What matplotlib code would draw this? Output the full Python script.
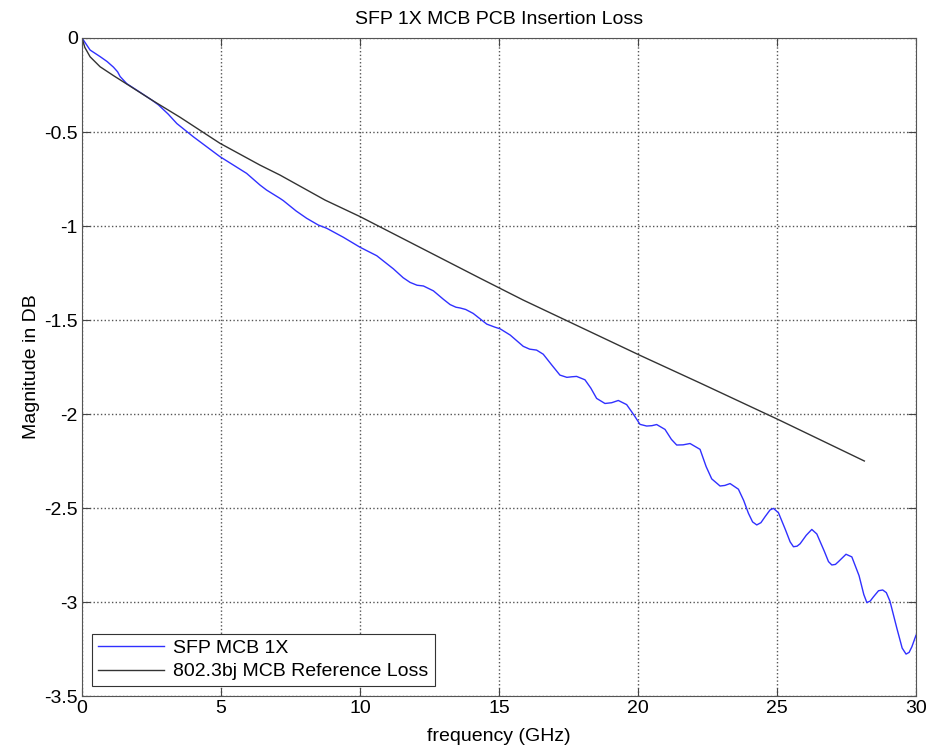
import matplotlib.pyplot as plt

plt.rcParams['font.family'] = ['Liberation Sans', 'DejaVu Sans']

# SFP MCB 1X
sfp_freq = [0, 0.29, 0.65, 0.9, 1.13, 1.28, 1.37, 1.61, 2.1, 2.51, 2.75, 3.1, 3.41,
            4.0, 4.96, 5.92, 6.4, 6.64, 7.12, 7.24, 7.7, 8.08, 8.5, 8.8, 9.4, 10.0,
            10.6, 11.2, 11.55, 11.8, 12.05, 12.28, 12.64, 13.0, 13.24, 13.45, 13.6,
            13.8, 14.07, 14.56, 14.85, 15.04, 15.4, 15.87, 16.1, 16.35, 16.59, 16.9,
            17.19, 17.44, 17.62, 17.79, 18.09, 18.3, 18.51, 18.81, 19.05, 19.29,
            19.59, 19.85, 20.07, 20.31, 20.5, 20.67, 20.97, 21.2, 21.39, 21.62,
            21.87, 22.23, 22.45, 22.65, 22.95, 23.12, 23.31, 23.61, 23.8, 23.97,
            24.12, 24.27, 24.42, 24.57, 24.75, 24.87, 25.05, 25.3, 25.47, 25.59,
            25.72, 25.83, 26.05, 26.25, 26.43, 26.7, 26.85, 26.97, 27.1, 27.21,
            27.48, 27.69, 27.95, 28.12, 28.23, 28.35, 28.47, 28.65, 28.8, 28.93,
            29.06, 29.31, 29.5, 29.64, 29.75, 29.85, 30.0]
sfp_mag = [0, -0.064, -0.099, -0.125, -0.155, -0.18, -0.205, -0.243, -0.29, -0.33,
           -0.356, -0.405, -0.455, -0.525, -0.631, -0.72, -0.782, -0.809, -0.853,
           -0.865, -0.92, -0.959, -0.995, -1.012, -1.06, -1.113, -1.158, -1.228,
           -1.275, -1.3, -1.315, -1.319, -1.345, -1.39, -1.418, -1.432, -1.436,
           -1.444, -1.465, -1.522, -1.538, -1.547, -1.58, -1.64, -1.655, -1.66,
           -1.682, -1.74, -1.793, -1.805, -1.802, -1.8, -1.818, -1.862, -1.917,
           -1.944, -1.94, -1.928, -1.95, -2.005, -2.055, -2.064, -2.062, -2.056,
           -2.082, -2.135, -2.165, -2.164, -2.157, -2.188, -2.28, -2.345, -2.383,
           -2.38, -2.37, -2.4, -2.46, -2.528, -2.574, -2.59, -2.578, -2.546, -2.51,
           -2.502, -2.525, -2.615, -2.68, -2.706, -2.703, -2.69, -2.645, -2.614,
           -2.638, -2.73, -2.785, -2.803, -2.8, -2.785, -2.746, -2.76, -2.86,
           -2.96, -3.003, -2.995, -2.972, -2.94, -2.936, -2.95, -2.995, -3.14,
           -3.245, -3.277, -3.268, -3.238, -3.176]

# 802.3bj MCB reference loss
ref_freq = [0, 0.1, 0.29, 0.65, 1.13, 1.61, 2.51, 3.53, 4.96, 6.4, 7.12, 8.74,
            10.0, 14.32, 15.87, 20.07, 22.23, 25.05, 28.14]
ref_mag = [0, -0.05, -0.10, -0.153, -0.2, -0.245, -0.33, -0.422, -0.56, -0.676,
           -0.729, -0.862, -0.95, -1.278, -1.394, -1.688, -1.835, -2.03, -2.25]

fig = plt.figure(figsize=(9.44, 7.48), dpi=100)
ax = fig.add_axes([0.0869, 0.0695, 0.8835, 0.8797])
ax.plot(sfp_freq, sfp_mag, color='#3030ff', linewidth=1, label='SFP MCB 1X')
ax.plot(ref_freq, ref_mag, color='#333333', linewidth=1,
        label='802.3bj MCB Reference Loss')

ax.set_xlim(0, 30)
ax.set_ylim(-3.5, 0)
ax.set_xticks(range(0, 31, 5))
ax.set_yticks([-3.5, -3, -2.5, -2, -1.5, -1, -0.5, 0])
ax.set_yticklabels(['-3.5', '-3', '-2.5', '-2', '-1.5', '-1', '-0.5', '0'])
ax.tick_params(direction='in', top=True, right=True, labelsize=14, length=6,
               color='#444444', pad=3)
for s in ax.spines.values():
    s.set_color('#555555')
ax.grid(True, linestyle=':', color='#555555', linewidth=1)

ax.set_title('SFP 1X MCB PCB Insertion Loss', fontsize=14, pad=10)
ax.set_xlabel('frequency (GHz)', fontsize=14, labelpad=8)
ax.set_ylabel('Magnitude in DB', fontsize=14, labelpad=3)

leg = ax.legend(loc='lower left', fontsize=14, fancybox=False, framealpha=1,
                edgecolor='#333333', handlelength=3.4, borderaxespad=0.5,
                labelspacing=0.3, borderpad=0.3, handletextpad=0.5)
leg.get_frame().set_linewidth(0.8)

fig.savefig('out.png', dpi=100)
